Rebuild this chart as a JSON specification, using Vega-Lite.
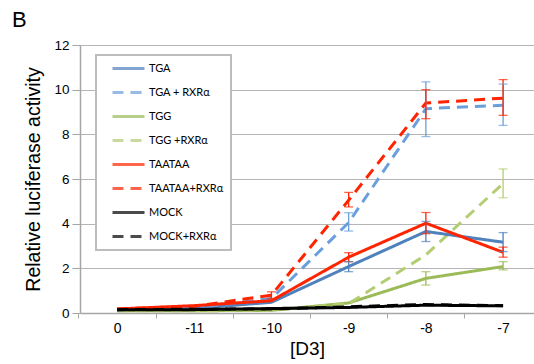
{
  "$schema": "https://vega.github.io/schema/vega-lite/v6.json",
  "width": 454,
  "height": 268,
  "autosize": {"type": "none"},
  "padding": {"left": 80, "top": 45, "right": 0, "bottom": 51},
  "background": "white",
  "title": {"text": "B", "anchor": "start", "frame": "group", "dx": -68, "dy": 5, "offset": -6, "baseline": "alphabetic", "fontSize": 22, "fontWeight": "normal", "font": "Liberation Sans", "color": "#000"},
  "config": {"view": {"stroke": null}, "legend": {"strokeWidth": 2}},
  "data": {"values": [
    {"series": "TGG", "dose": "0", "v": 0.1},
    {"series": "TGG", "dose": "-11", "v": 0.1},
    {"series": "TGG", "dose": "-10", "v": 0.12},
    {"series": "TGG", "dose": "-9", "v": 0.45},
    {"series": "TGG", "dose": "-8", "v": 1.55, "lo": 1.25, "hi": 1.85},
    {"series": "TGG", "dose": "-7", "v": 2.08, "lo": 1.93, "hi": 2.3},
    {"series": "TGG +RXRα", "dose": "0", "v": 0.1},
    {"series": "TGG +RXRα", "dose": "-11", "v": 0.1},
    {"series": "TGG +RXRα", "dose": "-10", "v": 0.12},
    {"series": "TGG +RXRα", "dose": "-9", "v": 0.42},
    {"series": "TGG +RXRα", "dose": "-8", "v": 2.6},
    {"series": "TGG +RXRα", "dose": "-7", "v": 5.8, "lo": 5.16, "hi": 6.45},
    {"series": "TGA", "dose": "0", "v": 0.15},
    {"series": "TGA", "dose": "-11", "v": 0.2},
    {"series": "TGA", "dose": "-10", "v": 0.48},
    {"series": "TGA", "dose": "-9", "v": 2.08, "lo": 1.85, "hi": 2.3},
    {"series": "TGA", "dose": "-8", "v": 3.65, "lo": 3.2, "hi": 4.1},
    {"series": "TGA", "dose": "-7", "v": 3.17, "lo": 2.75, "hi": 3.6},
    {"series": "TGA + RXRα", "dose": "0", "v": 0.15},
    {"series": "TGA + RXRα", "dose": "-11", "v": 0.22},
    {"series": "TGA + RXRα", "dose": "-10", "v": 0.65},
    {"series": "TGA + RXRα", "dose": "-9", "v": 4.05, "lo": 3.67, "hi": 4.49},
    {"series": "TGA + RXRα", "dose": "-8", "v": 9.15, "lo": 7.9, "hi": 10.35},
    {"series": "TGA + RXRα", "dose": "-7", "v": 9.3, "lo": 8.4, "hi": 10.25},
    {"series": "TAATAA", "dose": "0", "v": 0.18},
    {"series": "TAATAA", "dose": "-11", "v": 0.33},
    {"series": "TAATAA", "dose": "-10", "v": 0.55},
    {"series": "TAATAA", "dose": "-9", "v": 2.5, "lo": 2.3, "hi": 2.7},
    {"series": "TAATAA", "dose": "-8", "v": 4.02, "lo": 3.55, "hi": 4.5},
    {"series": "TAATAA", "dose": "-7", "v": 2.72, "lo": 2.5, "hi": 2.95},
    {"series": "TAATAA+RXRα", "dose": "0", "v": 0.18},
    {"series": "TAATAA+RXRα", "dose": "-11", "v": 0.3},
    {"series": "TAATAA+RXRα", "dose": "-10", "v": 0.8, "lo": 0.65, "hi": 0.95},
    {"series": "TAATAA+RXRα", "dose": "-9", "v": 5.05, "lo": 4.75, "hi": 5.4},
    {"series": "TAATAA+RXRα", "dose": "-8", "v": 9.4, "lo": 8.7, "hi": 10.0},
    {"series": "TAATAA+RXRα", "dose": "-7", "v": 9.62, "lo": 8.85, "hi": 10.45},
    {"series": "MOCK", "dose": "0", "v": 0.15},
    {"series": "MOCK", "dose": "-11", "v": 0.15},
    {"series": "MOCK", "dose": "-10", "v": 0.2},
    {"series": "MOCK", "dose": "-9", "v": 0.25},
    {"series": "MOCK", "dose": "-8", "v": 0.35},
    {"series": "MOCK", "dose": "-7", "v": 0.32},
    {"series": "MOCK+RXRα", "dose": "0", "v": 0.15},
    {"series": "MOCK+RXRα", "dose": "-11", "v": 0.17},
    {"series": "MOCK+RXRα", "dose": "-10", "v": 0.18},
    {"series": "MOCK+RXRα", "dose": "-9", "v": 0.28},
    {"series": "MOCK+RXRα", "dose": "-8", "v": 0.38},
    {"series": "MOCK+RXRα", "dose": "-7", "v": 0.33}
  ]},
  "encoding": {
    "x": {
      "field": "dose", "type": "ordinal",
      "scale": {"type": "point", "domain": ["0", "-11", "-10", "-9", "-8", "-7"], "padding": 0.44, "align": 0.545},
      "axis": {
        "title": "[D3]", "titleFont": "Liberation Sans", "titleFontSize": 19, "titleFontWeight": "normal", "titleColor": "#000", "titlePadding": 4,
        "labelFont": "Liberation Sans", "labelFontSize": 14, "labelColor": "#000", "labelAngle": 0, "labelPadding": 3,
        "domainColor": "#a6a6a6", "domainWidth": 1.5, "tickColor": "#a6a6a6", "tickSize": 5, "tickWidth": 1,
        "tickOffset": -38.6, "labelOffset": 38.6, "grid": false
      }
    },
    "color": {
      "field": "series", "type": "nominal",
      "scale": {
        "domain": ["TGA", "TGA + RXRα", "TGG", "TGG +RXRα", "TAATAA", "TAATAA+RXRα", "MOCK", "MOCK+RXRα"],
        "range": ["#4f81bd", "#6a9fdb", "#9bbb59", "#b3cd73", "#ff2400", "#ff2400", "#000000", "#000000"]
      },
      "legend": {
        "title": null, "orient": "none", "legendX": 16, "legendY": 10,
        "fillColor": "white", "strokeColor": "#bdbdbd", "padding": 7,
        "symbolType": "M-3.2,0H3.2", "symbolSize": 100, "symbolStrokeWidth": 3, "symbolOffset": 19,
        "labelOffset": 14, "labelFont": "Lato", "labelFontSize": 11, "labelColor": "#000", "rowPadding": 11
      }
    }
  },
  "layer": [
    {
      "mark": {"type": "line", "strokeWidth": 3},
      "encoding": {
        "y": {
          "field": "v", "type": "quantitative",
          "scale": {"domain": [0, 12], "nice": false},
          "axis": {
            "title": "Relative luciferase activity", "titleFont": "Liberation Sans", "titleFontSize": 19.5, "titleFontWeight": "normal", "titleColor": "#000", "titlePadding": 10,
            "values": [0, 2, 4, 6, 8, 10, 12], "labelFont": "Liberation Sans", "labelFontSize": 13.5, "labelColor": "#000", "labelPadding": 3,
            "domainColor": "#a6a6a6", "domainWidth": 1.5, "tickColor": "#a6a6a6", "tickSize": 8,
            "grid": true, "gridColor": "#b5b5b5", "gridWidth": 1
          }
        },
        "strokeDash": {
          "field": "series", "type": "nominal",
          "scale": {
            "domain": ["TGA", "TGA + RXRα", "TGG", "TGG +RXRα", "TAATAA", "TAATAA+RXRα", "MOCK", "MOCK+RXRα"],
            "range": [[1, 0], [11, 7], [1, 0], [11, 7], [1, 0], [11, 7], [1, 0], [11, 7]]
          }
        }
      }
    },
    {
      "transform": [{"filter": "isValid(datum.lo)"}],
      "mark": {"type": "rule", "strokeWidth": 1.3},
      "encoding": {
        "y": {"field": "lo", "type": "quantitative"},
        "y2": {"field": "hi"}
      }
    },
    {
      "transform": [{"filter": "isValid(datum.lo)"}],
      "mark": {"type": "tick", "size": 9, "thickness": 1.3},
      "encoding": {
        "y": {"field": "lo", "type": "quantitative"}
      }
    },
    {
      "transform": [{"filter": "isValid(datum.lo)"}],
      "mark": {"type": "tick", "size": 9, "thickness": 1.3},
      "encoding": {
        "y": {"field": "hi", "type": "quantitative"}
      }
    }
  ]
}
